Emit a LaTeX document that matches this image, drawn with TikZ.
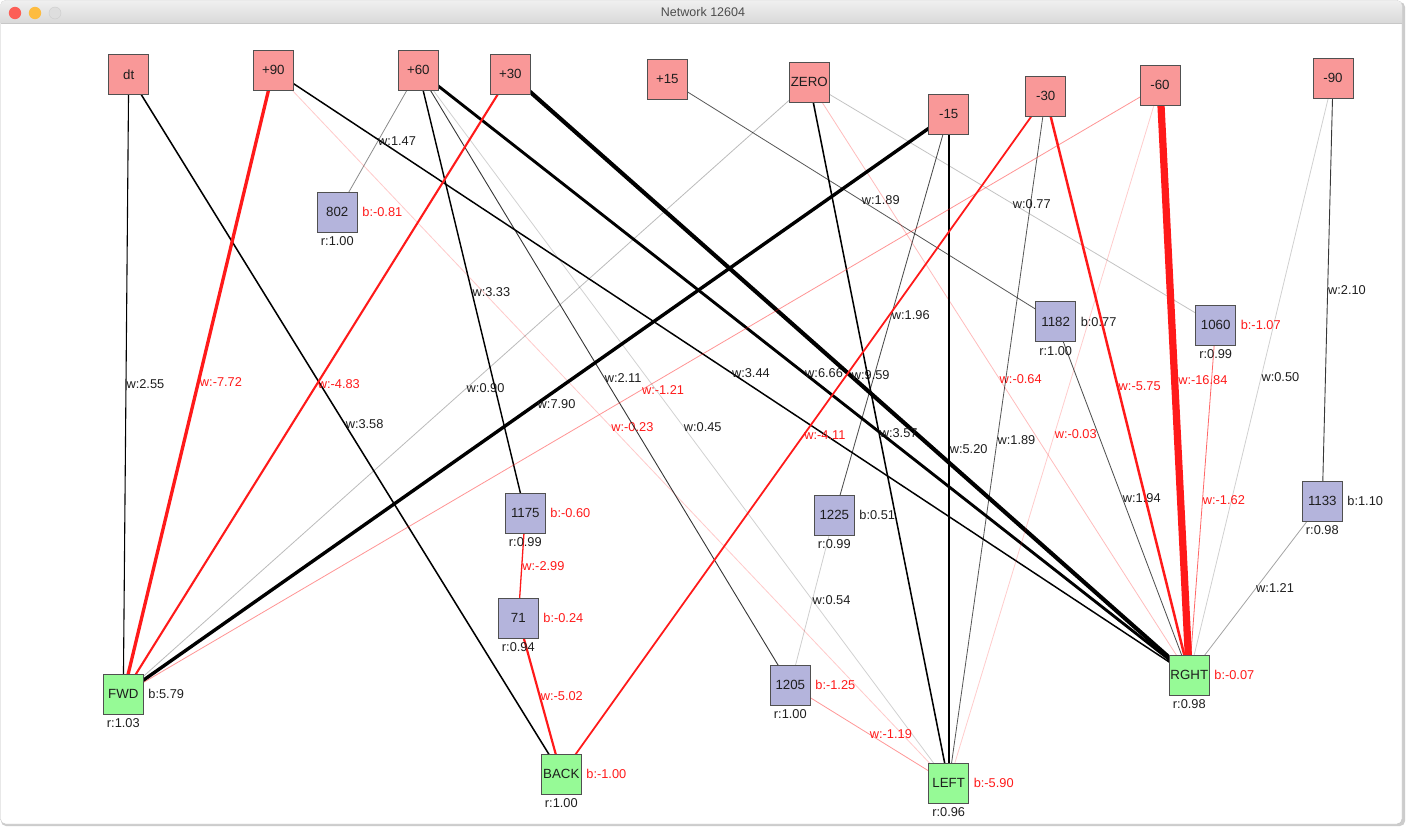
\documentclass[tikz,border=0pt]{standalone}
\usepackage{fontspec}
\setmainfont{Liberation Sans}
\usetikzlibrary{backgrounds}
\definecolor{eing}{HTML}{F99898}
\definecolor{verd}{HTML}{B4B4DC}
\definecolor{ausg}{HTML}{96FA96}
\definecolor{rand}{HTML}{505050}
\definecolor{negrot}{HTML}{FF1A1A}
\definecolor{schrift}{HTML}{1E1E1E}
\definecolor{ampelr}{HTML}{FC5F57}
\definecolor{ampelg}{HTML}{FDBC40}
\newcommand{\lbl}{\fontsize{12.8}{15}\selectfont}
\newcommand{\neuron}[7]{%
  \node[#3] (#1) at (#2) {#4};
  \node[btxt,#5] (#1b) at (#1.east) {b:#6};
  \node[rtxt] (#1r) at (#1.south) {r:#7};}
\tikzset{
  nbox/.style={draw=rand, line width=0.8pt, minimum size=40pt, inner sep=0pt, text=schrift, font=\fontsize{13.3}{15}\selectfont},
  ein/.style={nbox, fill=eing},
  hid/.style={nbox, fill=verd},
  aus/.style={nbox, fill=ausg},
  wpos/.style={draw=black, line width={max(0.8,0.43*#1)}, draw opacity={min(1,0.15+#1*#1/7)}},
  wneg/.style={draw=negrot, line width={max(0.8,0.43*#1)}, draw opacity={min(1,0.22+#1*#1/6)}},
  wt/.style={anchor=west, inner sep=0pt, font=\lbl, text=schrift},
  wtn/.style={wt, text=negrot},
  btxt/.style={anchor=west, xshift=4.5pt, inner sep=0pt, font=\lbl, text=schrift},
  rtxt/.style={anchor=north, yshift=-4pt, inner sep=0pt, font=\lbl, text=schrift},
}

\begin{document}
\begin{tikzpicture}[x=1pt,y=-1pt]
  \useasboundingbox (0,0) rectangle (1406,827);
  \begin{scope}[on background layer]
    \fill[white] (0,0) rectangle (1406,827);
    \fill[black!20, rounded corners=5pt] (1,2) rectangle (1405,826);
    \fill[white, rounded corners=5pt] (0,0) rectangle (1402,824);
    \draw[black!25, rounded corners=5pt] (0.5,0.5) rectangle (1402,824);
    \shade[top color=black!6, bottom color=black!15] (0.5,23) [rounded corners=5pt] -- (0.5,0.5) -- (1402,0.5) [sharp corners] -- (1402,23) -- cycle;
    \draw[black!22] (0.5,23) -- (1402,23);
    \fill[ampelr] (15,13) circle[radius=6.2pt];
    \fill[ampelg] (35,13) circle[radius=6.2pt];
    \filldraw[fill=black!13, draw=black!20] (55,13) circle[radius=6pt];
  \end{scope}
  \node[font=\fontsize{12.5}{14}\selectfont, text=black!70] (titel) at (703,12.5) {Network 12604};

  % Eingaenge
  \node[ein] (dt) at (128.7,74.3) {dt};
  \node[ein] (p90) at (273.3,70.3) {+90};
  \node[ein] (p60) at (418.3,70.3) {+60};
  \node[ein] (p30) at (510.3,74.3) {+30};
  \node[ein] (p15) at (667.3,79.3) {+15};
  \node[ein] (zero) at (809.3,82.3) {ZERO};
  \node[ein] (m15) at (948.7,114.3) {-15};
  \node[ein] (m30) at (1045.7,96.3) {-30};
  \node[ein] (m60) at (1160,85.3) {-60};
  \node[ein] (m90) at (1333,78.3) {-90};

  % versteckte Neuronen
  \neuron{h802}{337.3,212.3}{hid}{802}{text=negrot}{-0.81}{1.00}
  \neuron{h1182}{1055.7,321.7}{hid}{1182}{}{0.77}{1.00}
  \neuron{h1060}{1215.7,325}{hid}{1060}{text=negrot}{-1.07}{0.99}
  \neuron{h1175}{525.3,513.3}{hid}{1175}{text=negrot}{-0.60}{0.99}
  \neuron{h71}{518.3,618.3}{hid}{71}{text=negrot}{-0.24}{0.94}
  \neuron{h1225}{834.3,515.3}{hid}{1225}{}{0.51}{0.99}
  \neuron{h1133}{1322.3,501.3}{hid}{1133}{}{1.10}{0.98}
  \neuron{h1205}{790.3,685.3}{hid}{1205}{text=negrot}{-1.25}{1.00}

  % Ausgaenge
  \neuron{fwd}{123.3,694.3}{aus}{FWD}{}{5.79}{1.03}
  \neuron{bck}{561.3,774.3}{aus}{BACK}{text=negrot}{-1.00}{1.00}
  \neuron{lft}{948.7,783.3}{aus}{LEFT}{text=negrot}{-5.90}{0.96}
  \neuron{rgt}{1189.3,675.3}{aus}{RGHT}{text=negrot}{-0.07}{0.98}

  % Gewichte
  \begin{scope}[on background layer]
    \draw[wpos=2.55] (dt.center) -- node[wt]{w:2.55} (fwd.center);
    \draw[wpos=3.58] (dt.center) -- node[wt]{w:3.58} (bck.center);
    \draw[wneg=7.72] (p90.center) -- node[wtn]{w:-7.72} (fwd.center);
    \draw[wneg=0.23] (p90.center) -- node[wtn]{w:-0.23} (lft.center);
    \draw[wpos=3.44] (p90.center) -- node[wt]{w:3.44} (rgt.center);
    \draw[wpos=1.47] (p60.center) -- node[wt]{w:1.47} (h802.center);
    \draw[wpos=3.33] (p60.center) -- node[wt]{w:3.33} (h1175.center);
    \draw[wpos=2.11] (p60.center) -- node[wt]{w:2.11} (h1205.center);
    \draw[wpos=0.45] (p60.center) -- node[wt]{w:0.45} (lft.center);
    \draw[wpos=6.66] (p60.center) -- node[wt]{w:6.66} (rgt.center);
    \draw[wneg=4.83] (p30.center) -- node[wtn]{w:-4.83} (fwd.center);
    \draw[wpos=9.59] (p30.center) -- node[wt]{w:9.59} (rgt.center);
    \draw[wpos=1.89] (p15.center) -- node[wt]{w:1.89} (h1182.center);
    \draw[wpos=0.90] (zero.center) -- node[wt]{w:0.90} (fwd.center);
    \draw[wpos=3.57] (zero.center) -- node[wt]{w:3.57} (lft.center);
    \draw[wneg=0.64] (zero.center) -- node[wtn]{w:-0.64} (rgt.center);
    \draw[wpos=0.77] (zero.center) -- node[wt]{w:0.77} (h1060.center);
    \draw[wpos=7.90] (m15.center) -- node[wt]{w:7.90} (fwd.center);
    \draw[wpos=1.96] (m15.center) -- node[wt]{w:1.96} (h1225.center);
    \draw[wpos=5.20] (m15.center) -- node[wt]{w:5.20} (lft.center);
    \draw[wneg=4.11] (m30.center) -- node[wtn]{w:-4.11} (bck.center);
    \draw[wpos=1.89] (m30.center) -- node[wt]{w:1.89} (lft.center);
    \draw[wneg=5.75] (m30.center) -- node[wtn]{w:-5.75} (rgt.center);
    \draw[wneg=1.21] (m60.center) -- node[wtn]{w:-1.21} (fwd.center);
    \draw[wneg=0.03] (m60.center) -- node[wtn]{w:-0.03} (lft.center);
    \draw[wneg=16.84] (m60.center) -- node[wtn]{w:-16.84} (rgt.center);
    \draw[wpos=2.10] (m90.center) -- node[wt]{w:2.10} (h1133.center);
    \draw[wpos=0.50] (m90.center) -- node[wt]{w:0.50} (rgt.center);
    \draw[wpos=1.94] (h1182.center) -- node[wt]{w:1.94} (rgt.center);
    \draw[wneg=1.62] (h1060.center) -- node[wtn]{w:-1.62} (rgt.center);
    \draw[wpos=1.21] (h1133.center) -- node[wt]{w:1.21} (rgt.center);
    \draw[wneg=2.99] (h1175.center) -- node[wtn]{w:-2.99} (h71.center);
    \draw[wneg=5.02] (h71.center) -- node[wtn]{w:-5.02} (bck.center);
    \draw[wpos=0.54] (h1225.center) -- node[wt]{w:0.54} (h1205.center);
    \draw[wneg=1.19] (h1205.center) -- node[wtn]{w:-1.19} (lft.center);
  \end{scope}
\end{tikzpicture}
\end{document}
